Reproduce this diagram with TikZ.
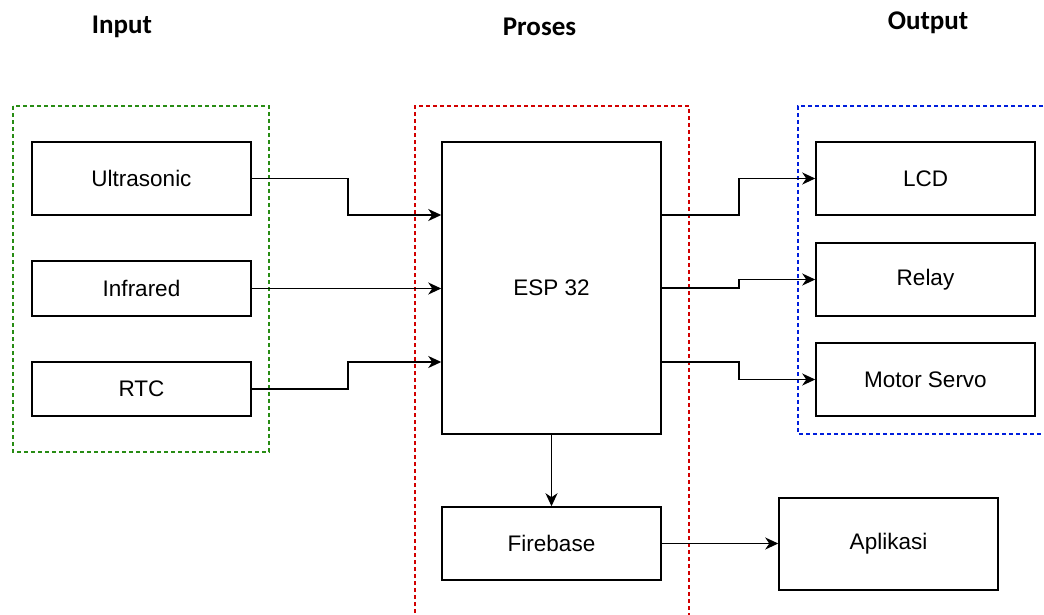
\documentclass[tikz,border=0pt]{standalone}
\usepackage{fontspec}
\setmainfont{Liberation Sans}
\newfontfamily\titlefont{Carlito}
\usetikzlibrary{arrows.meta}
\begin{document}
\begin{tikzpicture}[x=1pt,y=-1pt,
  blk/.style={draw=black,line width=1.5pt,minimum width=219pt,inner sep=0pt,
    font=\fontsize{22.5}{26}\selectfont},
  ttl/.style={anchor=base,font=\titlefont\bfseries\fontsize{27}{31}\selectfont},
  arr/.style={line width=1.5pt,-{Stealth[length=13pt,width=12pt,inset=4pt]}},
  grp/.style={line width=1.2pt,dash pattern=on 4pt off 3pt}]
\useasboundingbox (0,0) rectangle (1044,614);
\clip (0,0) rectangle (1044,614);
% titles
\node[ttl] (tin) at (122,33) {Input};
\node[ttl] (tpr) at (539.5,35) {Proses};
\node[ttl] (tout) at (928,29) {Output};
% group frames
\draw[grp,draw={rgb,255:red,40;green,140;blue,20}] (13,106) rectangle (269,452);
\draw[grp,draw={rgb,255:red,210;green,0;blue,0}] (415,620) -- (415,106) -- (689,106) -- (689,620);
\draw[grp,draw={rgb,255:red,0;green,30;blue,220}] (1050,106) -- (798,106) -- (798,434) -- (1050,434);
% blocks
\node[blk,minimum height=73pt] (us) at (141.5,178.5) {Ultrasonic};
\node[blk,minimum height=55pt] (ir) at (141.5,288.5) {Infrared};
\node[blk,minimum height=54pt] (rtc) at (141.5,389) {RTC};
\node[blk,minimum height=292pt] (esp) at (551.5,288) {ESP 32};
\node[blk,minimum height=73pt] (lcd) at (925.5,178.5) {LCD};
\node[blk,minimum height=73pt] (rly) at (925.5,279.5) {Relay};
\node[blk,minimum height=73pt] (srv) at (925.5,379.5) {Motor Servo};
\node[blk,minimum height=73pt] (fb) at (551.5,543.5) {Firebase};
\node[blk,minimum height=92pt] (app) at (888.5,544) {Aplikasi};
% connectors
\draw[arr] (us.east) -- ++(96,0) |- ([yshift=73pt]esp.west);
\draw[arr] (ir.east) -- (ir.east -| esp.west);
\draw[arr] (rtc.east) -- ++(96,0) |- ([yshift=-74pt]esp.west);
\draw[arr] ([yshift=73pt]esp.east) -- ++(77,0) |- (lcd.west);
\draw[arr] (esp.east) -- ++(77,0) |- (rly.west);
\draw[arr] ([yshift=-74pt]esp.east) -- ++(77,0) |- (srv.west);
\draw[arr] (esp.south) -- (fb.north);
\draw[arr] (fb.east) -- (fb.east -| app.west);
\end{tikzpicture}
\end{document}
